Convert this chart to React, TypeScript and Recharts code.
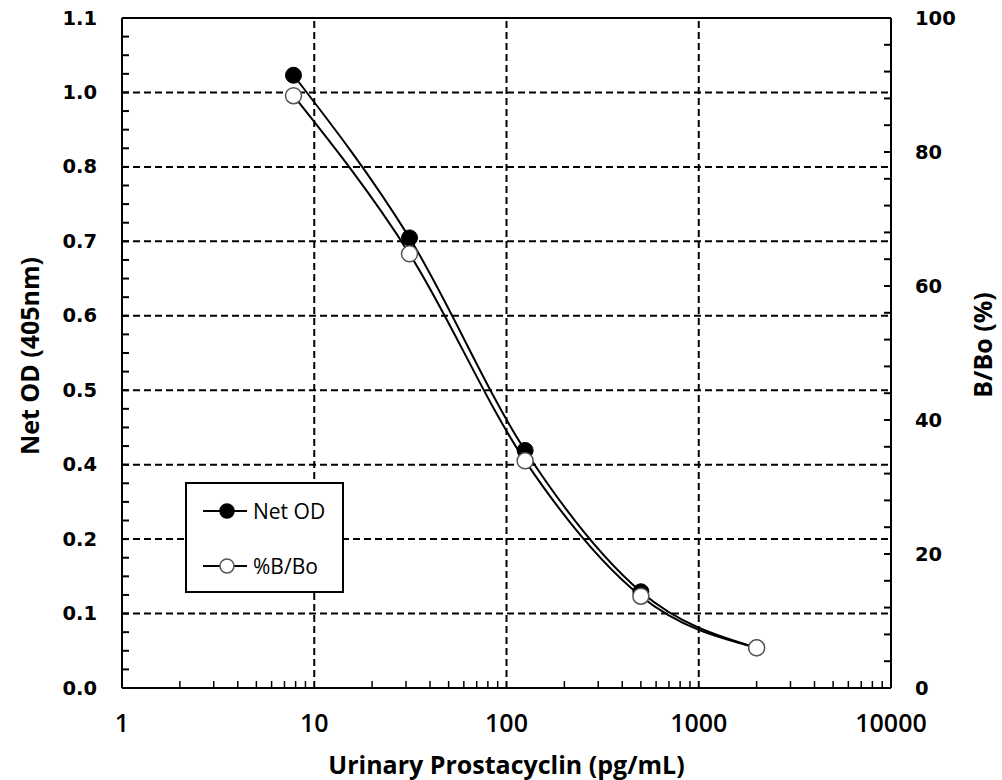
import React from 'react';
import { LineChart, Line, XAxis, YAxis, ReferenceLine, Legend } from 'recharts';

// standard concentrations (pg/mL) and readings
const conc = [7.8, 31.3, 125, 500, 2000];
const netOD = [1.006, 0.739, 0.39, 0.158, 0.066];
const bBo = [88.4, 64.8, 33.9, 13.7, 6.0];

const leftTickLabels = ['0.0', '0.1', '0.2', '0.4', '0.5', '0.6', '0.7', '0.8', '1.0', '1.1'];
const rightTickLabels = ['0', '20', '40', '60', '80', '100'];
const xTickLabels = ['1', '10', '100', '1000', '10000'];
const xGridValues = [10, 100, 1000];
const seriesOrder = ['netOD', 'bBo'];

const LEFT_MAX = 1.1;
const RIGHT_MAX = 100;

const data = conc.map((c, i) => ({ conc: c, netOD: netOD[i], bBo: bBo[i] }));

// left: major at each of the 9 divisions, 3 minors between
const leftMajors = leftTickLabels.map((_, i) => (i * LEFT_MAX) / (leftTickLabels.length - 1));
const leftTicks = Array.from({ length: (leftTickLabels.length - 1) * 4 + 1 }, (_, i) => (i * LEFT_MAX) / ((leftTickLabels.length - 1) * 4));
const rightTicks = Array.from({ length: 26 }, (_, i) => i * 4);
const xTicks: number[] = [];
[1, 10, 100, 1000].forEach((d) => {
  for (let m = 1; m <= 9; m++) xTicks.push(m * d);
});
xTicks.push(10000);

const tickFont = { fontFamily: '"DejaVu Sans", sans-serif', fontWeight: 700, fontSize: 19.5 };
const titleFont = { fontFamily: '"Open Sans", sans-serif', fontWeight: 700, fontSize: 25 };

const LeftTick = (props: any) => {
  const { x, y, payload } = props;
  const idx = Math.round((payload.value * 36) / LEFT_MAX);
  const major = idx % 4 === 0;
  return (
    <g>
      <line x1={x} x2={x + 7} y1={y} y2={y} stroke="#000" strokeWidth={2} />
      {major && (
        <text x={x - 25} y={y} textAnchor="end" dominantBaseline="central" fill="#000" style={tickFont}>
          {leftTickLabels[idx / 4]}
        </text>
      )}
    </g>
  );
};

const RightTick = (props: any) => {
  const { x, y, payload } = props;
  const v = Math.round(payload.value);
  return (
    <g>
      <line x1={x} x2={x - 7} y1={y} y2={y} stroke="#000" strokeWidth={2} />
      {v % 20 === 0 && (
        <text x={x + 24} y={y} textAnchor="start" dominantBaseline="central" fill="#000" style={tickFont}>
          {rightTickLabels[v / 20]}
        </text>
      )}
    </g>
  );
};

const BottomTick = (props: any) => {
  const { x, y, payload } = props;
  const lg = Math.log10(payload.value);
  const major = Math.abs(lg - Math.round(lg)) < 1e-6;
  return (
    <g>
      {!major && <line x1={x} x2={x} y1={y} y2={y - 7} stroke="#000" strokeWidth={1.5} />}
      {major && (
        <text
          x={x}
          y={y + 34}
          textAnchor="middle"
          dominantBaseline="central"
          fill="#000"
          style={{ fontFamily: '"Open Sans", sans-serif', fontWeight: 600, fontSize: 25 }}
        >
          {xTickLabels[Math.round(lg)]}
        </text>
      )}
    </g>
  );
};

const LegendBox = (props: any) => {
  const items = [...(props.payload || [])].sort(
    (a: any, b: any) => seriesOrder.indexOf(a.dataKey) - seriesOrder.indexOf(b.dataKey)
  );
  return (
    <svg width={160} height={112} style={{ display: 'block' }}>
      <rect x={1} y={1} width={157} height={109} fill="#fff" stroke="#000" strokeWidth={2} />
      {items.map((item: any, i: number) => {
        const cy = 29 + i * 55;
        const filled = item.dataKey === 'netOD';
        return (
          <g key={item.value}>
            <line x1={18} x2={62} y1={cy} y2={cy} stroke="#000" strokeWidth={2} />
            <circle cx={42} cy={cy} r={7} fill={filled ? '#000' : '#fff'} stroke={filled ? '#000' : '#555'} strokeWidth={1.5} />
            <text
              x={68}
              y={cy}
              dominantBaseline="central"
              fill="#000"
              style={{ fontFamily: '"Open Sans", sans-serif', fontSize: 21 }}
            >
              {item.value}
            </text>
          </g>
        );
      })}
    </svg>
  );
};

const App: React.FC = () => {
  return (
    <div style={{ position: 'absolute', left: 0, top: 0, background: '#fff' }}>
      <LineChart width={1002} height={780} data={data} margin={{ top: 18, right: 0, bottom: 0, left: 0 }}>
        <XAxis
          dataKey="conc"
          type="number"
          scale="log"
          domain={[1, 10000]}
          ticks={xTicks}
          interval={0}
          allowDataOverflow
          height={92}
          tickSize={0}
          tickMargin={0}
          tick={<BottomTick />}
          axisLine={{ stroke: '#000', strokeWidth: 2 }}
          label={{
            content: (p: any) => (
              <text
                x={p.viewBox.x + p.viewBox.width / 2}
                y={p.viewBox.y + 76}
                textAnchor="middle"
                dominantBaseline="central"
                fill="#000"
                style={titleFont}
              >
                Urinary Prostacyclin (pg/mL)
              </text>
            ),
          }}
        />
        <YAxis
          yAxisId="left"
          type="number"
          domain={[0, LEFT_MAX]}
          ticks={leftTicks}
          interval={0}
          allowDataOverflow
          width={122}
          tickSize={0}
          tickMargin={0}
          tick={<LeftTick />}
          axisLine={{ stroke: '#000', strokeWidth: 2 }}
          label={{
            content: (p: any) => {
              const cx = p.viewBox.x + 29;
              const cy = p.viewBox.y + p.viewBox.height / 2 + 3;
              return (
                <text
                  x={cx}
                  y={cy}
                  transform={`rotate(-90, ${cx}, ${cy})`}
                  textAnchor="middle"
                  dominantBaseline="central"
                  fill="#000"
                  style={titleFont}
                >
                  Net OD (405nm)
                </text>
              );
            },
          }}
        />
        <YAxis
          yAxisId="right"
          orientation="right"
          type="number"
          domain={[0, RIGHT_MAX]}
          ticks={rightTicks}
          interval={0}
          allowDataOverflow
          width={111}
          tickSize={0}
          tickMargin={0}
          tick={<RightTick />}
          axisLine={{ stroke: '#000', strokeWidth: 2 }}
          label={{
            content: (p: any) => {
              const cx = p.viewBox.x + 91;
              const cy = p.viewBox.y + p.viewBox.height / 2 - 8;
              return (
                <text
                  x={cx}
                  y={cy}
                  transform={`rotate(-90, ${cx}, ${cy})`}
                  textAnchor="middle"
                  dominantBaseline="central"
                  fill="#000"
                  style={titleFont}
                >
                  B/Bo (%)
                </text>
              );
            },
          }}
        />
        {leftMajors.slice(1, -1).map((v) => (
          <ReferenceLine key={`h${v}`} yAxisId="left" y={v} stroke="#000" strokeWidth={2} strokeDasharray="7 4" />
        ))}
        {xGridValues.map((v) => (
          <ReferenceLine key={`v${v}`} yAxisId="left" x={v} stroke="#000" strokeWidth={2} strokeDasharray="7 4" />
        ))}
        <ReferenceLine yAxisId="left" y={LEFT_MAX} stroke="#000" strokeWidth={2} />
        <Legend
          layout="vertical"
          align="center"
          verticalAlign="middle"
          content={<LegendBox />}
          wrapperStyle={{ left: 185, top: 482, width: 160, height: 112 }}
        />
        <Line
          yAxisId="left"
          dataKey="netOD"
          name="Net OD"
          type="monotone"
          stroke="#000"
          strokeWidth={2}
          dot={{ r: 8, fill: '#000', stroke: '#000', strokeWidth: 1 }}
          isAnimationActive={false}
        />
        <Line
          yAxisId="right"
          dataKey="bBo"
          name="%B/Bo"
          type="monotone"
          stroke="#000"
          strokeWidth={2}
          dot={{ r: 8, fill: '#fff', stroke: '#555', strokeWidth: 1.5 }}
          isAnimationActive={false}
        />
      </LineChart>
    </div>
  );
};

export default App;
